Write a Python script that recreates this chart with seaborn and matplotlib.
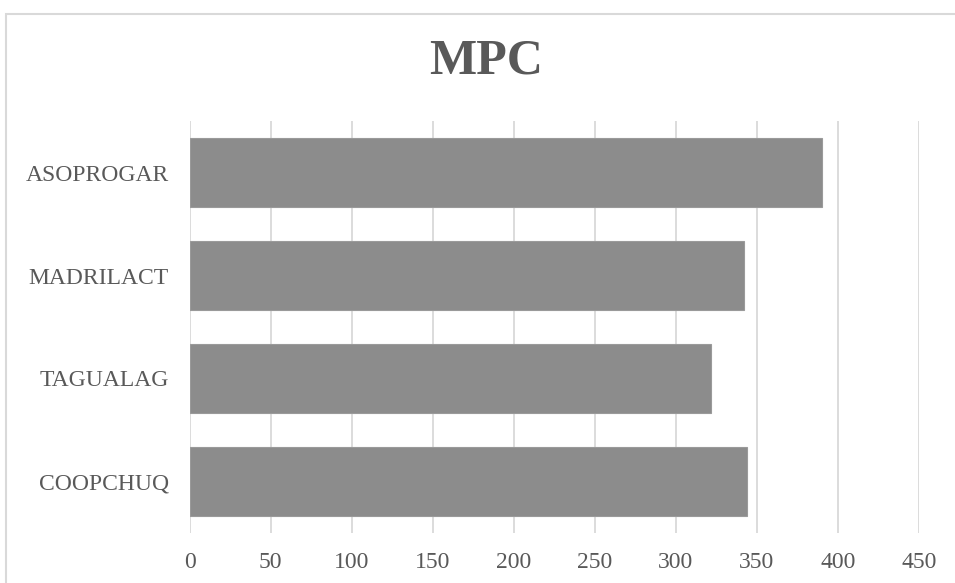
import matplotlib
matplotlib.use("Agg")
import matplotlib.pyplot as plt
from matplotlib.patches import Rectangle
import seaborn as sns
import pandas as pd

# Data
categories = ["ASOPROGAR", "MADRILACT", "TAGUALAG", "COOPCHUQ"]
values = [390, 342, 322, 344]
x_ticks = [0, 50, 100, 150, 200, 250, 300, 350, 400, 450]
title = "MPC"

df = pd.DataFrame({"org": categories, "mpc": values})

sns.set_theme(style="white")
plt.rcParams["font.family"] = ["Liberation Serif", "DejaVu Serif"]

W, H = 955, 583
fig = plt.figure(figsize=(W / 100, H / 100), dpi=100)
fig.patch.set_facecolor("white")

left, right = 189.5, 919.0
top, bottom = 121.3, 532.8
ax = fig.add_axes([left / W, 1 - bottom / H, (right - left) / W, (bottom - top) / H])

sns.barplot(data=df, x="mpc", y="org", order=categories, orient="h",
            color="#8c8c8c", saturation=1, width=0.667,
            edgecolor="#9a9a9a", linewidth=0.8, ax=ax, zorder=2)

ax.set_xlim(0, 450)
ax.set_xticks(x_ticks)
ax.set_xticklabels([str(t) for t in x_ticks])
ax.grid(axis="x", color="#d9d9d9", linewidth=1.3, zorder=0)
ax.grid(axis="y", visible=False)
ax.set_axisbelow(True)
for s in ax.spines.values():
    s.set_visible(False)
ax.set_xlabel("")
ax.set_ylabel("")
ax.tick_params(axis="x", length=0, pad=14, labelsize=17, labelcolor="#595959")
ax.tick_params(axis="y", length=0, pad=15, labelsize=17, labelcolor="#595959")

fig.text(486 / W, 1 - 61.5 / H, title, ha="center", va="center",
         fontsize=36, fontweight="bold", color="#595959")

# chart frame
fig.patches.append(Rectangle((6 / W, -0.1), 1.0, 1 - 13.5 / H + 0.1,
                             transform=fig.transFigure, fill=False,
                             edgecolor="#d9d9d9", linewidth=1.5))

fig.savefig("out.png", dpi=100, facecolor="white")
